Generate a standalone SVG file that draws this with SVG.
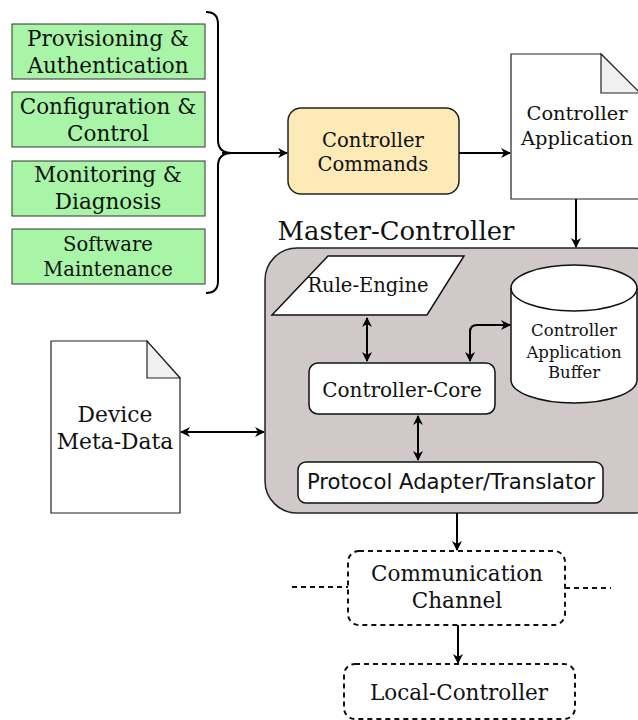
<svg xmlns="http://www.w3.org/2000/svg" width="638" height="720" viewBox="0 0 638 720">
<defs>
<marker id="ah" viewBox="0 0 10 10" refX="9" refY="5" markerWidth="5" markerHeight="5" orient="auto-start-reverse" markerUnits="strokeWidth">
<path d="M0,0 L10,5 L0,10 L3,5 Z" fill="#000"/>
</marker>
<style>
.serif{font-family:"DejaVu Serif",serif;fill:#111;text-anchor:middle}
.sans{font-family:"DejaVu Sans",sans-serif;fill:#111;text-anchor:middle}
.green{fill:#a8f5a8;stroke:#333;stroke-width:1}
.doc{fill:#fff;stroke:#222;stroke-width:1.2}
.fold{fill:#f0f0f0;stroke:#222;stroke-width:1.2}
.wbox{fill:#fff;stroke:#111;stroke-width:1.5}
.dash{fill:#fff;stroke:#111;stroke-width:2;stroke-dasharray:5,4}
.conn{fill:none;stroke:#000;stroke-width:2}
.dline{fill:none;stroke:#111;stroke-width:2;stroke-dasharray:5,4}
</style>
</defs>
<g id="master-controller">
<rect x="265" y="248" width="400" height="265" rx="32" fill="#d1c9c9" stroke="#222" stroke-width="1.5"/>
<text class="serif" x="396" y="240" font-size="25.9">Master-Controller</text>
</g>
<g id="provisioning">
<rect class="green" x="12" y="24" width="193" height="55"/>
<text class="serif" x="108" y="46" font-size="21.5">Provisioning &amp;</text>
<text class="serif" x="108" y="73" font-size="21.5">Authentication</text>
</g>
<g id="configuration">
<rect class="green" x="12" y="92" width="193" height="55"/>
<text class="serif" x="108" y="114" font-size="21.5">Configuration &amp;</text>
<text class="serif" x="108" y="141" font-size="21.5">Control</text>
</g>
<g id="monitoring">
<rect class="green" x="12" y="161" width="193" height="55"/>
<text class="serif" x="108" y="182" font-size="21.5">Monitoring &amp;</text>
<text class="serif" x="108" y="209" font-size="21.5">Diagnosis</text>
</g>
<g id="software">
<rect class="green" x="12" y="229" width="193" height="55"/>
<text class="serif" x="108" y="251" font-size="19.6">Software</text>
<text class="serif" x="108" y="276" font-size="19.6">Maintenance</text>
</g>
<g id="brace">
<path d="M206,12 Q218,12 218,24 L218,140 Q218,153 232,153 Q218,153 218,166 L218,281 Q218,293 206,293" fill="none" stroke="#000" stroke-width="2"/>
</g>
<g id="controller-commands">
<rect x="288" y="108" width="171" height="86" rx="13" fill="#fdeab7" stroke="#222" stroke-width="1.5"/>
<text class="serif" x="373" y="147" font-size="19.6">Controller</text>
<text class="serif" x="373" y="171" font-size="19.6">Commands</text>
</g>
<g id="controller-application">
<path class="doc" d="M511,54 L601,54 L640,93 L640,199 L511,199 Z"/>
<path class="fold" d="M601,54 L601,93 L640,93 Z"/>
<text class="serif" x="577" y="120" font-size="19.4">Controller</text>
<text class="serif" x="577" y="145" font-size="19.4">Application</text>
</g>
<g id="rule-engine">
<polygon class="wbox" points="328,256 464,256 427,315 272,315" stroke-width="1.2"/>
<text class="serif" x="368" y="292" font-size="19.5">Rule-Engine</text>
</g>
<g id="buffer">
<path class="wbox" d="M511,288 L511,380 A63,23 0 0 0 637,380 L637,288 A63,23 0 0 0 511,288 Z"/>
<path d="M511,288 A63,23 0 0 0 637,288" fill="none" stroke="#111" stroke-width="1.5"/>
<text class="serif" x="574" y="336" font-size="16.5">Controller</text>
<text class="serif" x="574" y="358" font-size="16.5">Application</text>
<text class="serif" x="574" y="378" font-size="16.5">Buffer</text>
</g>
<g id="controller-core">
<rect class="wbox" x="309" y="363" width="186" height="51" rx="9"/>
<text class="serif" x="402" y="397" font-size="20">Controller-Core</text>
</g>
<g id="protocol-adapter">
<rect class="wbox" x="298" y="462" width="305" height="41" rx="8"/>
<text class="sans" x="451" y="489" font-size="21.2">Protocol Adapter/Translator</text>
</g>
<g id="device-meta-data">
<path class="doc" d="M51,341 L147,341 L180,378 L180,513 L51,513 Z"/>
<path class="fold" d="M147,341 L147,378 L180,378 Z"/>
<text class="serif" x="115" y="422" font-size="21.8">Device</text>
<text class="serif" x="115" y="449" font-size="21.8">Meta-Data</text>
</g>
<g id="communication-channel">
<rect class="dash" x="348" y="551" width="217" height="74" rx="11"/>
<text class="serif" x="457" y="581" font-size="21.5">Communication</text>
<text class="serif" x="457" y="608" font-size="21.5">Channel</text>
</g>
<g id="local-controller">
<rect class="dash" x="344" y="664" width="231" height="55" rx="11"/>
<text class="serif" x="459" y="700" font-size="21.5">Local-Controller</text>
</g>
<g id="connectors">
<line class="conn" x1="222" y1="153" x2="287" y2="153" marker-end="url(#ah)"/>
<line class="conn" x1="459" y1="153" x2="510" y2="153" marker-end="url(#ah)"/>
<line class="conn" x1="576" y1="199" x2="576" y2="247" marker-end="url(#ah)"/>
<line class="conn" x1="367" y1="318" x2="367" y2="361" marker-start="url(#ah)" marker-end="url(#ah)"/>
<path class="conn" d="M470,361 L470,332 Q470,325 477,325 L510,325" marker-start="url(#ah)" marker-end="url(#ah)"/>
<line class="conn" x1="418" y1="416" x2="418" y2="460" marker-start="url(#ah)" marker-end="url(#ah)"/>
<line class="conn" x1="181" y1="432" x2="264" y2="432" marker-start="url(#ah)" marker-end="url(#ah)"/>
<line class="conn" x1="457" y1="513" x2="457" y2="550" marker-end="url(#ah)"/>
<line class="conn" x1="458" y1="625" x2="458" y2="663" marker-end="url(#ah)"/>
<line class="dline" x1="292" y1="587" x2="348" y2="587"/>
<line class="dline" x1="565" y1="588" x2="611" y2="588"/>
</g>
</svg>
